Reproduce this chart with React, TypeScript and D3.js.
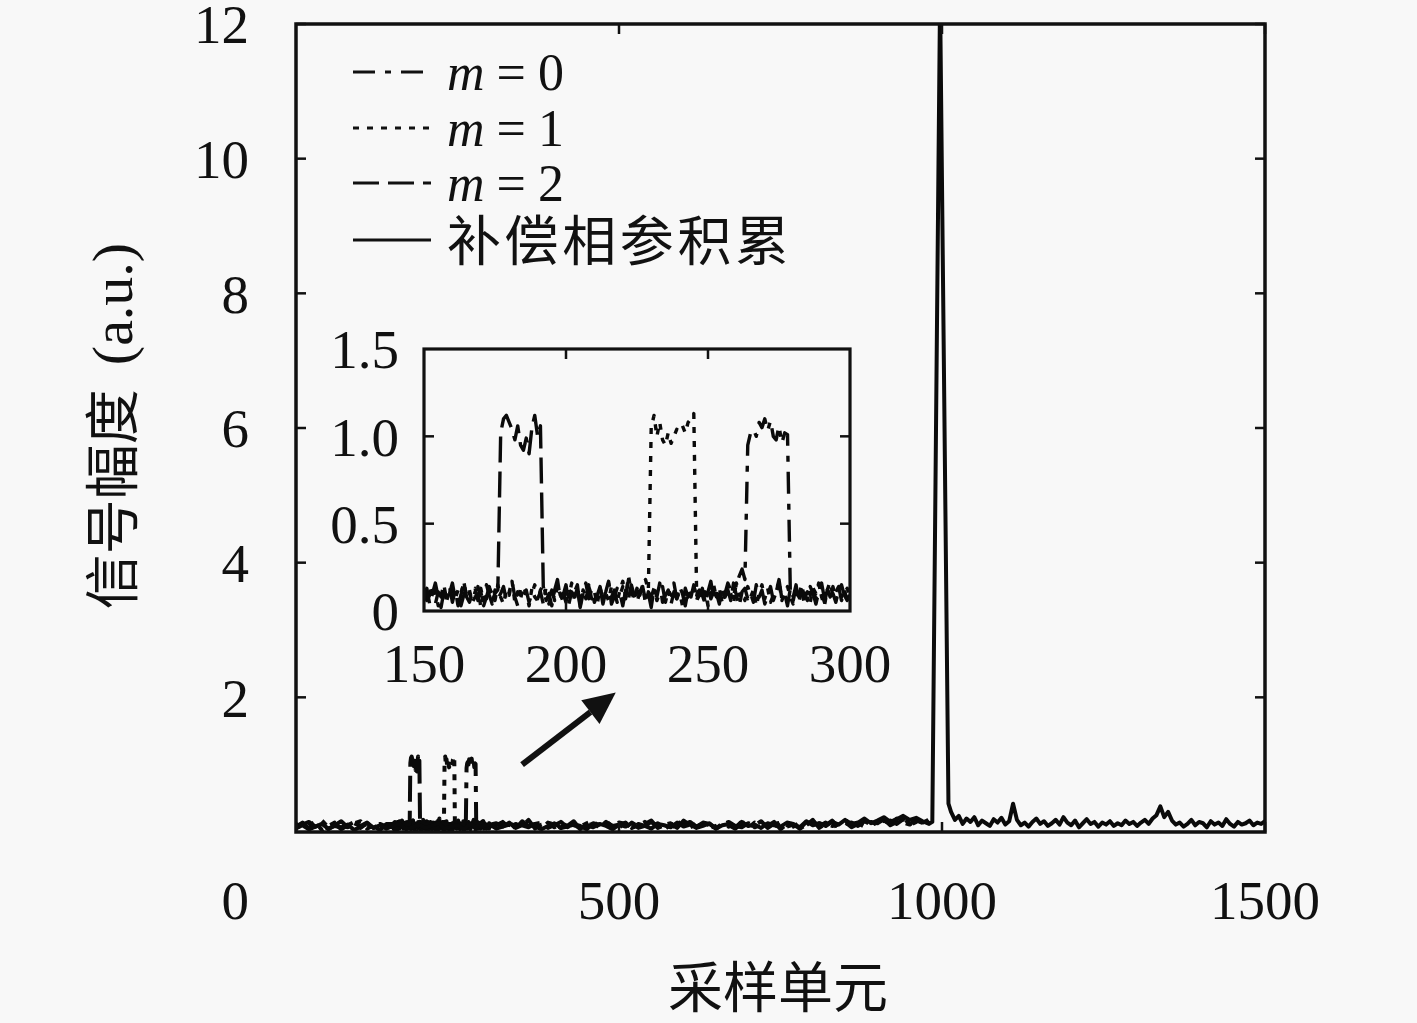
import { useEffect, useRef } from "react";
import * as d3 from "d3";

// legend / series names
const seriesNames = ["m=0", "m=1", "m=2", "补偿相参积累"];

// tick values
const mainXTicks = [500, 1000, 1500];
const mainYTicks = [2, 4, 6, 8, 10, 12];
const insetXTicks = [150, 200, 250, 300];
const insetYTicks = [0, 0.5, 1.0, 1.5];
const insetYLabels = ["0", "0.5", "1.0", "1.5"];

// inset data: one value per sample, samples 150..300
const m0Inset = [
  0.12, 0.06, 0.09, 0.15, 0.04, 0.11, 0.08, 0.13, 0.05, 0.10,
  0.16, 0.07, 0.12, 0.03, 0.09, 0.14, 0.10, 0.06, 0.11, 0.08,
  0.13, 0.05, 0.15, 0.09, 0.04, 0.12, 0.07, 0.10, 0.14, 0.06,
  0.11, 0.17, 0.08, 0.03, 0.13, 0.09, 0.12, 0.05, 0.10, 0.15,
  0.07, 0.11, 0.04, 0.14, 0.08, 0.12, 0.06, 0.16, 0.09, 0.10,
  0.05, 0.13, 0.08, 0.11, 0.15, 0.03, 0.12, 0.07, 0.14, 0.09,
  0.06, 0.10, 0.13, 0.04, 0.11, 0.16, 0.08, 0.12, 0.05, 0.09,
  0.14, 0.07, 0.18, 0.10, 0.06, 0.12, 0.09, 0.15, 0.04, 0.11,
  0.08, 0.13, 0.06, 0.10, 0.14, 0.05, 0.12, 0.09, 0.16, 0.07,
  0.11, 0.03, 0.13, 0.08, 0.10, 0.15, 0.06, 0.12, 0.09, 0.04,
  0.14, 0.07, 0.11, 0.08, 0.13, 0.05, 0.10, 0.16, 0.12, 0.09,
  0.15, 0.20, 0.24, 0.18,
  0.95, 1.02, 1.04, 1.00, 1.08, 1.05, 1.10, 1.03, 1.09, 1.00,
  0.98, 1.06, 0.96, 1.02, 1.01,
  0.10, 0.06, 0.13, 0.08, 0.11, 0.04, 0.14, 0.09, 0.12, 0.07,
  0.15, 0.10, 0.05, 0.12, 0.17, 0.08, 0.11, 0.14, 0.06, 0.10,
  0.13, 0.09,
];

const m1Inset = [
  0.10, 0.05, 0.14, 0.08, 0.12, 0.03, 0.09, 0.15, 0.06, 0.11,
  0.13, 0.07, 0.04, 0.10, 0.16, 0.09, 0.12, 0.05, 0.08, 0.14,
  0.02, 0.11, 0.07, 0.13, 0.10, 0.06, 0.15, 0.08, 0.04, 0.12,
  0.09, 0.17, 0.05, 0.11, 0.07, 0.14, 0.10, 0.03, 0.13, 0.08,
  0.06, 0.12, 0.15, 0.09, 0.04, 0.11, 0.07, 0.14, 0.10, 0.05,
  0.13, 0.08, 0.16, 0.06, 0.10, 0.03, 0.12, 0.09, 0.15, 0.07,
  0.11, 0.04, 0.13, 0.08, 0.10, 0.06, 0.14, 0.09, 0.05, 0.12,
  0.17, 0.08, 0.20, 0.11, 0.07, 0.13, 0.09, 0.15, 0.18, 0.12,
  1.05, 1.12, 1.00, 1.08, 0.98, 0.95, 1.02, 0.96, 1.00, 1.04,
  1.03, 1.06, 1.02, 1.08, 1.10, 1.13,
  0.09, 0.14, 0.06, 0.11, 0.03, 0.10, 0.15, 0.07, 0.12, 0.05,
  0.08, 0.13, 0.10, 0.04, 0.16, 0.09, 0.11, 0.06, 0.14, 0.08,
  0.12, 0.03, 0.10, 0.15, 0.07, 0.13, 0.05, 0.09, 0.11, 0.17,
  0.06, 0.10, 0.14, 0.08, 0.04, 0.12, 0.09, 0.15, 0.07, 0.11,
  0.05, 0.13, 0.10, 0.16, 0.08, 0.03, 0.12, 0.09, 0.14, 0.06,
  0.11, 0.08, 0.13, 0.05, 0.10,
];

const m2Inset = [
  0.07, 0.13, 0.04, 0.10, 0.16, 0.08, 0.02, 0.11, 0.09, 0.14,
  0.05, 0.12, 0.03, 0.09, 0.17, 0.08, 0.05, 0.10, 0.13, 0.06,
  0.11, 0.03, 0.08, 0.14, 0.06, 0.10, 0.12,
  1.02, 1.10, 1.12, 1.08, 1.04, 0.98, 1.06, 0.95, 0.92, 0.99,
  0.90, 1.05, 1.12, 1.00, 1.06,
  0.14, 0.06, 0.10, 0.03, 0.12, 0.18, 0.07, 0.09, 0.15, 0.04,
  0.11, 0.08, 0.13, 0.02, 0.10, 0.16, 0.07, 0.12, 0.05, 0.09,
  0.14, 0.06, 0.11, 0.17, 0.04, 0.08, 0.13, 0.10, 0.03, 0.12,
  0.07, 0.15, 0.09, 0.05, 0.11, 0.14, 0.06, 0.10, 0.02, 0.13,
  0.08, 0.16, 0.05, 0.09, 0.12, 0.04, 0.11, 0.07, 0.14, 0.10,
  0.03, 0.12, 0.08, 0.15, 0.06, 0.09, 0.13, 0.05, 0.11, 0.17,
  0.07, 0.10, 0.04, 0.14, 0.08, 0.12, 0.06, 0.16, 0.09, 0.03,
  0.11, 0.13, 0.07, 0.10, 0.05, 0.15, 0.08, 0.12, 0.04, 0.09,
  0.14, 0.06, 0.11, 0.18, 0.07, 0.10, 0.03, 0.13, 0.08, 0.15,
  0.05, 0.12, 0.09, 0.06, 0.14, 0.10, 0.04, 0.11, 0.16, 0.07,
  0.13, 0.08, 0.10, 0.05, 0.12, 0.15, 0.09, 0.06, 0.11,
];

// main chart, coarse samples every 10: 0..140 and 310..980
const m0Left = [0.08, 0.14, 0.05, 0.11, 0.17, 0.07, 0.12, 0.04, 0.10, 0.15, 0.06, 0.13, 0.09, 0.03, 0.12];
const m0Right = [
  0.10, 0.15, 0.06, 0.12, 0.08, 0.18, 0.05, 0.11, 0.14, 0.07,
  0.13, 0.09, 0.16, 0.04, 0.10, 0.12, 0.07, 0.15, 0.09, 0.11,
  0.05, 0.14, 0.08, 0.12, 0.17, 0.06, 0.10, 0.13, 0.04, 0.11,
  0.15, 0.08, 0.12, 0.06, 0.09, 0.14, 0.10, 0.05, 0.13, 0.16,
  0.07, 0.11, 0.09, 0.15, 0.04, 0.12, 0.08, 0.14, 0.10, 0.18,
  0.06, 0.13, 0.09, 0.11, 0.15, 0.07, 0.12, 0.16, 0.10, 0.14,
  0.08, 0.17, 0.12, 0.19, 0.10, 0.15, 0.22, 0.13,
];
const m1Left = [0.12, 0.06, 0.10, 0.15, 0.03, 0.09, 0.14, 0.11, 0.07, 0.13, 0.16, 0.05, 0.10, 0.12, 0.08];
const m1Right = [
  0.07, 0.12, 0.16, 0.05, 0.10, 0.13, 0.09, 0.04, 0.14, 0.11,
  0.06, 0.15, 0.10, 0.08, 0.13, 0.17, 0.05, 0.11, 0.09, 0.14,
  0.12, 0.06, 0.10, 0.15, 0.08, 0.13, 0.04, 0.11, 0.16, 0.09,
  0.07, 0.12, 0.14, 0.10, 0.05, 0.13, 0.08, 0.17, 0.11, 0.06,
  0.14, 0.09, 0.12, 0.07, 0.15, 0.10, 0.13, 0.05, 0.11, 0.16,
  0.09, 0.14, 0.07, 0.12, 0.18, 0.10, 0.13, 0.08, 0.15, 0.11,
  0.17, 0.12, 0.20, 0.14, 0.11, 0.19, 0.13, 0.16,
];
const m2Left = [0.05, 0.11, 0.15, 0.08, 0.12, 0.04, 0.10, 0.16, 0.07, 0.13, 0.09, 0.14, 0.06, 0.11, 0.10];
const m2Right = [
  0.13, 0.08, 0.11, 0.05, 0.16, 0.09, 0.12, 0.14, 0.06, 0.10,
  0.15, 0.07, 0.12, 0.09, 0.04, 0.13, 0.11, 0.16, 0.08, 0.10,
  0.14, 0.05, 0.12, 0.09, 0.15, 0.07, 0.11, 0.13, 0.06, 0.17,
  0.10, 0.08, 0.14, 0.12, 0.05, 0.11, 0.15, 0.09, 0.07, 0.13,
  0.10, 0.16, 0.06, 0.12, 0.14, 0.08, 0.11, 0.05, 0.15, 0.09,
  0.13, 0.10, 0.17, 0.07, 0.12, 0.14, 0.09, 0.16, 0.11, 0.13,
  0.19, 0.10, 0.15, 0.21, 0.12, 0.17, 0.14, 0.18,
];

// compensated coherent accumulation: before peak (0..980 step 10), peak, after (1014..1500 step 6)
const solidPre = [
  0.06, 0.10, 0.04, 0.08, 0.12, 0.05, 0.09, 0.07, 0.11, 0.03,
  0.08, 0.13, 0.06, 0.10, 0.05, 0.09, 0.12, 0.04, 0.07, 0.11,
  0.06, 0.09, 0.13, 0.05, 0.08, 0.10, 0.04, 0.12, 0.07, 0.09,
  0.11, 0.05, 0.08, 0.14, 0.06, 0.10, 0.07, 0.12, 0.04, 0.09,
  0.13, 0.06, 0.08, 0.11, 0.05, 0.10, 0.07, 0.12, 0.09, 0.04,
  0.11, 0.08, 0.13, 0.06, 0.09, 0.05, 0.12, 0.10, 0.07, 0.14,
  0.08, 0.11, 0.06, 0.09, 0.13, 0.05, 0.10, 0.12, 0.07, 0.15,
  0.09, 0.11, 0.06, 0.13, 0.10, 0.08, 0.14, 0.12, 0.07, 0.16,
  0.10, 0.13, 0.09, 0.15, 0.11, 0.18, 0.12, 0.14, 0.20, 0.13,
  0.17, 0.22, 0.15, 0.19, 0.24, 0.18, 0.21, 0.16, 0.12,
];
const peakX = [985, 997, 1010];
const peakY = [0.15, 12.4, 0.42];
const solidPost = [
  0.30, 0.18, 0.24, 0.12, 0.20, 0.15, 0.22, 0.10, 0.17, 0.13,
  0.09, 0.19, 0.14, 0.21, 0.11, 0.16, 0.42, 0.18, 0.10, 0.14,
  0.08, 0.15, 0.20, 0.12, 0.16, 0.09, 0.13, 0.18, 0.11, 0.22,
  0.14, 0.10, 0.17, 0.07, 0.13, 0.19, 0.12, 0.15, 0.08, 0.14,
  0.11, 0.16, 0.09, 0.13, 0.10, 0.17, 0.12, 0.15, 0.09, 0.14,
  0.18, 0.12, 0.20, 0.25, 0.38, 0.22, 0.30, 0.17, 0.11, 0.14,
  0.08, 0.12, 0.18, 0.10, 0.15, 0.13, 0.07, 0.16, 0.11, 0.14,
  0.09, 0.19, 0.12, 0.08, 0.15, 0.11, 0.13, 0.17, 0.10, 0.14,
  0.12, 0.16,
];

// arrow in main-chart data coordinates
const arrowFrom = [350, 1.0];
const arrowTo = [495, 2.07];

type Pt = { x: number; y: number };

const latin = "'Liberation Serif', 'DejaVu Serif', serif";
const cjk = "'Noto Sans CJK SC', sans-serif";
const dashes = ["22,10,6,10", "6,8", "26,9", null];

function mainSeries(left: number[], fine: number[], right: number[]): Pt[] {
  return [
    ...left.map((v, i) => ({ x: i * 10, y: v })),
    ...fine.map((v, i) => ({ x: 150 + i, y: v })),
    ...right.map((v, i) => ({ x: 310 + i * 10, y: v })),
  ];
}

export default function App() {
  const ref = useRef<SVGSVGElement | null>(null);

  useEffect(() => {
    const width = 1417,
      height = 1023;
    const svg = d3.select(ref.current);
    svg.selectAll("*").remove();

    svg.append("rect").attr("width", width).attr("height", height).attr("fill", "#f8f8f8");

    // main scales
    const x = d3.scaleLinear().domain([0, 1500]).range([296, 1265]);
    const y = d3.scaleLinear().domain([0, 12]).range([832, 24]);

    svg
      .append("clipPath")
      .attr("id", "mainClip")
      .append("rect")
      .attr("x", 296)
      .attr("y", 24)
      .attr("width", 969)
      .attr("height", 808);

    const line = d3
      .line<Pt>()
      .x(d => x(d.x))
      .y(d => y(d.y));

    const mainData: Pt[][] = [
      mainSeries(m0Left, m0Inset, m0Right),
      mainSeries(m1Left, m1Inset, m1Right),
      mainSeries(m2Left, m2Inset, m2Right),
      [
        ...solidPre.map((v, i) => ({ x: i * 10, y: v })),
        ...peakX.map((px, i) => ({ x: px, y: peakY[i] })),
        ...solidPost.map((v, i) => ({ x: 1014 + i * 6, y: v })),
      ],
    ];

    const plot = svg.append("g").attr("clip-path", "url(#mainClip)");
    mainData.forEach((data, k) => {
      const p = plot
        .append("path")
        .datum(data)
        .attr("fill", "none")
        .attr("stroke", "#0a0a0a")
        .attr("stroke-width", 4)
        .attr("stroke-linejoin", "round")
        .attr("d", line);
      if (dashes[k]) p.attr("stroke-dasharray", dashes[k]!);
    });

    // main frame and inward ticks
    const tickLen = 10;
    const axisG = svg.append("g").attr("stroke", "#111").attr("stroke-width", 2.5);
    mainYTicks.forEach(t => {
      axisG.append("line").attr("x1", x(0)).attr("x2", x(0) + tickLen).attr("y1", y(t)).attr("y2", y(t));
      axisG.append("line").attr("x1", x(1500)).attr("x2", x(1500) - tickLen).attr("y1", y(t)).attr("y2", y(t));
    });
    mainXTicks.forEach(t => {
      axisG.append("line").attr("x1", x(t)).attr("x2", x(t)).attr("y1", y(0)).attr("y2", y(0) - tickLen);
      axisG.append("line").attr("x1", x(t)).attr("x2", x(t)).attr("y1", y(12)).attr("y2", y(12) + tickLen);
    });
    svg
      .append("rect")
      .attr("x", x(0))
      .attr("y", y(12))
      .attr("width", x(1500) - x(0))
      .attr("height", y(0) - y(12))
      .attr("fill", "none")
      .attr("stroke", "#111")
      .attr("stroke-width", 3.5);

    // main tick labels
    const labelSize = 55;
    mainYTicks.forEach(t => {
      svg
        .append("text")
        .attr("x", 249)
        .attr("y", y(t))
        .attr("dy", "0.35em")
        .attr("text-anchor", "end")
        .attr("font-family", latin)
        .attr("font-size", labelSize)
        .attr("fill", "#111")
        .text(String(t));
    });
    mainXTicks.forEach(t => {
      svg
        .append("text")
        .attr("x", x(t))
        .attr("y", 900)
        .attr("dy", "0.35em")
        .attr("text-anchor", "middle")
        .attr("font-family", latin)
        .attr("font-size", labelSize)
        .attr("fill", "#111")
        .text(String(t));
    });
    // shared origin label
    svg
      .append("text")
      .attr("x", 249)
      .attr("y", 900)
      .attr("dy", "0.35em")
      .attr("text-anchor", "end")
      .attr("font-family", latin)
      .attr("font-size", labelSize)
      .attr("fill", "#111")
      .text("0");

    // axis titles
    svg
      .append("text")
      .attr("x", 778)
      .attr("y", 986)
      .attr("dy", "0.38em")
      .attr("text-anchor", "middle")
      .attr("font-family", cjk)
      .attr("font-size", 55)
      .attr("fill", "#111")
      .text("采样单元");
    const yTitle = svg
      .append("text")
      .attr("transform", "translate(126,426) rotate(-90)")
      .attr("dy", "0.38em")
      .attr("text-anchor", "middle")
      .attr("fill", "#111");
    yTitle.append("tspan").attr("font-family", cjk).attr("font-size", 55).text("信号幅度");
    yTitle.append("tspan").attr("font-family", latin).attr("font-size", 58).attr("dx", 24).text("(a.u.)");

    // legend
    const legendRows = [72, 128, 183, 240];
    seriesNames.forEach((name, k) => {
      const ly = legendRows[k];
      const l = svg
        .append("line")
        .attr("x1", 353)
        .attr("x2", 431)
        .attr("y1", ly)
        .attr("y2", ly)
        .attr("stroke", "#111")
        .attr("stroke-width", 3.2);
      if (dashes[k]) l.attr("stroke-dasharray", dashes[k]!);
      const t = svg
        .append("text")
        .attr("x", 447)
        .attr("y", ly)
        .attr("dy", "0.35em")
        .attr("fill", "#111")
        .attr("font-size", 52);
      if (name.startsWith("m=")) {
        t.attr("textLength", 117).attr("lengthAdjust", "spacing");
        t.append("tspan").attr("font-family", latin).attr("font-style", "italic").text("m");
        t.append("tspan").attr("font-family", latin).text(name.slice(1));
      } else {
        t.attr("font-family", cjk).attr("font-size", 54).attr("dy", "0.38em").attr("textLength", 342).text(name);
      }
    });

    // arrow
    const ax1 = x(arrowFrom[0]),
      ay1 = y(arrowFrom[1]),
      ax2 = x(arrowTo[0]),
      ay2 = y(arrowTo[1]);
    const ang = Math.atan2(ay2 - ay1, ax2 - ax1);
    const headLen = 32,
      headHalf = 15;
    const bx = ax2 - headLen * Math.cos(ang),
      by = ay2 - headLen * Math.sin(ang);
    svg
      .append("line")
      .attr("x1", ax1)
      .attr("y1", ay1)
      .attr("x2", bx)
      .attr("y2", by)
      .attr("stroke", "#111")
      .attr("stroke-width", 6);
    svg
      .append("path")
      .attr(
        "d",
        `M${ax2},${ay2}L${bx + headHalf * Math.sin(ang)},${by - headHalf * Math.cos(ang)}L${
          bx - headHalf * Math.sin(ang)
        },${by + headHalf * Math.cos(ang)}Z`
      )
      .attr("fill", "#111");

    // inset
    const ix = d3.scaleLinear().domain([150, 300]).range([424, 850]);
    const iy = d3.scaleLinear().domain([0, 1.5]).range([611, 349]);
    svg
      .append("rect")
      .attr("x", ix(150))
      .attr("y", iy(1.5))
      .attr("width", ix(300) - ix(150))
      .attr("height", iy(0) - iy(1.5))
      .attr("fill", "#f8f8f8");
    svg
      .append("clipPath")
      .attr("id", "insetClip")
      .append("rect")
      .attr("x", ix(150))
      .attr("y", iy(1.5))
      .attr("width", ix(300) - ix(150))
      .attr("height", iy(0) - iy(1.5));
    const iline = d3
      .line<number>()
      .x((_, i) => ix(150 + i))
      .y(d => iy(d));
    const insetG = svg.append("g").attr("clip-path", "url(#insetClip)");
    [m0Inset, m1Inset, m2Inset].forEach((data, k) => {
      insetG
        .append("path")
        .datum(data)
        .attr("fill", "none")
        .attr("stroke", "#0a0a0a")
        .attr("stroke-width", 3.4)
        .attr("stroke-linejoin", "round")
        .attr("stroke-dasharray", dashes[k]!)
        .attr("d", iline);
    });
    const iaxis = svg.append("g").attr("stroke", "#111").attr("stroke-width", 2.5);
    insetYTicks.slice(1, 3).forEach(t => {
      iaxis.append("line").attr("x1", ix(150)).attr("x2", ix(150) + tickLen).attr("y1", iy(t)).attr("y2", iy(t));
      iaxis.append("line").attr("x1", ix(300)).attr("x2", ix(300) - tickLen).attr("y1", iy(t)).attr("y2", iy(t));
    });
    insetXTicks.slice(1, 3).forEach(t => {
      iaxis.append("line").attr("x1", ix(t)).attr("x2", ix(t)).attr("y1", iy(0)).attr("y2", iy(0) - tickLen);
      iaxis.append("line").attr("x1", ix(t)).attr("x2", ix(t)).attr("y1", iy(1.5)).attr("y2", iy(1.5) + tickLen);
    });
    svg
      .append("rect")
      .attr("x", ix(150))
      .attr("y", iy(1.5))
      .attr("width", ix(300) - ix(150))
      .attr("height", iy(0) - iy(1.5))
      .attr("fill", "none")
      .attr("stroke", "#111")
      .attr("stroke-width", 3.2);
    insetYTicks.forEach((t, i) => {
      svg
        .append("text")
        .attr("x", 399)
        .attr("y", iy(t))
        .attr("dy", "0.35em")
        .attr("text-anchor", "end")
        .attr("font-family", latin)
        .attr("font-size", labelSize)
        .attr("fill", "#111")
        .text(insetYLabels[i]);
    });
    insetXTicks.forEach(t => {
      svg
        .append("text")
        .attr("x", ix(t))
        .attr("y", 663)
        .attr("dy", "0.35em")
        .attr("text-anchor", "middle")
        .attr("font-family", latin)
        .attr("font-size", labelSize)
        .attr("fill", "#111")
        .text(String(t));
    });
  }, []);

  return (
    <svg
      ref={ref}
      width={1417}
      height={1023}
      style={{ position: "absolute", left: 0, top: 0, display: "block" }}
    />
  );
}
